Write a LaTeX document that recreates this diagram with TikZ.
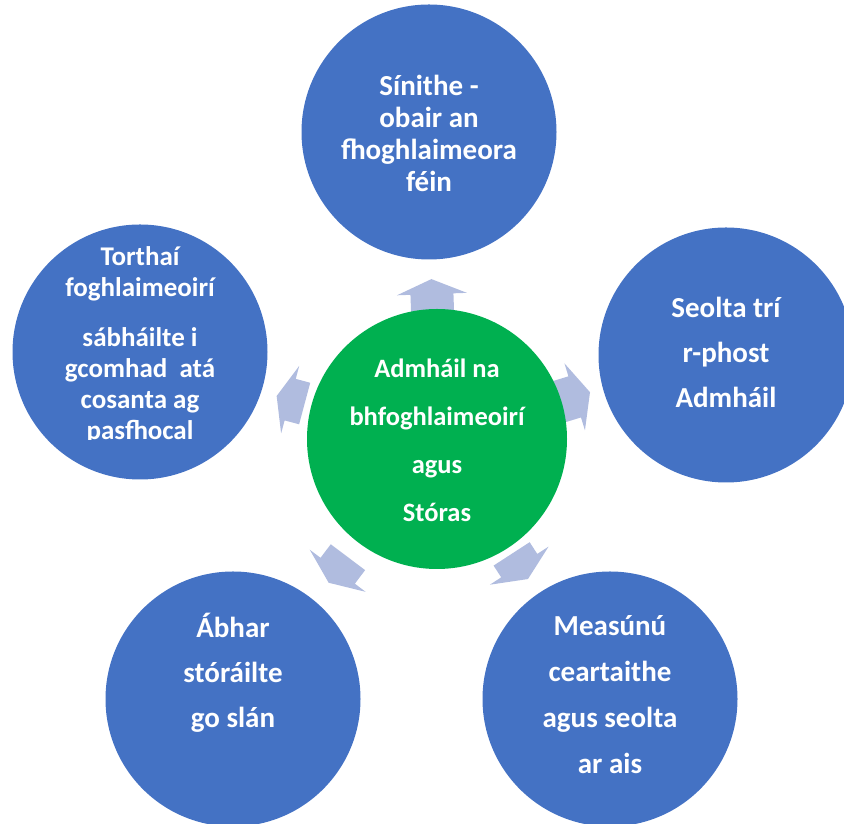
\documentclass[tikz,border=0pt]{standalone}
\usepackage{fontspec}
\setmainfont{Carlito}
\definecolor{spokeblue}{HTML}{4472C4}
\definecolor{hubgreen}{HTML}{00B050}
\definecolor{arrowblue}{HTML}{B0BCDF}
\begin{document}
\begin{tikzpicture}
		[x=1pt,y=1pt,
		spoke/.style={circle, fill=spokeblue, minimum size=255pt, inner sep=0pt},
		hub/.style={circle, fill=hubgreen, minimum size=260pt, inner sep=0pt},
		circletext/.style={text=white, align=center, inner sep=0pt},
		blockarrow/.style={fill=arrowblue},
		]
		\useasboundingbox (0,0) rectangle (844,824);
		\coordinate (mid) at (437,385);
		\foreach \ang/\rb/\rh/\rt in {92/120/145/160, 17/124/144/160, 165/137/152/166, -57/137/151/167, -127/148/165/180}
		\fill[blockarrow, shift={(mid)}, rotate=\ang]
			(\rb,-21.5) -- (\rh,-21.5) -- (\rh,-35) -- (\rt,0) -- (\rh,35) -- (\rh,21.5) -- (\rb,21.5) -- cycle;
		\node[hub] (hub) at (mid) {};
		\node[spoke] (signed) at (429,692) {};
		\node[spoke] (emailed) at (726,469) {};
		\node[spoke] (marked) at (610,125) {};
		\node[spoke] (stored) at (233,125) {};
		\node[spoke] (saved) at (140,472) {};
		
		\node[circletext, font=\bfseries\fontsize{26.5}{48}\selectfont] (hubtext) at (437,384)
			{Admháil na\\bhfoghlaimeoirí\\agus\\Stóras};
		\node[circletext, font=\bfseries\fontsize{29}{32}\selectfont] (signedtext) at (429,691)
			{Sínithe -\\obair an\\fhoghlaimeora\\féin};
		\node[circletext, font=\bfseries\fontsize{29}{45}\selectfont] (emailedtext) at (726,472)
			{Seolta trí\\r-phost\\Admháil};
		\node[circletext, font=\bfseries\fontsize{29}{46}\selectfont] (markedtext) at (610,129)
			{Measúnú\\ceartaithe\\agus seolta\\ar ais};
		\node[circletext, font=\bfseries\fontsize{29}{45}\selectfont] (storedtext) at (233,151)
			{Ábhar\\stóráilte\\go slán};
		\begin{scope}
			\clip (0,384) rectangle (300,824);
			\node[circletext, font=\bfseries\fontsize{27}{31}\selectfont] (savedtext) at (140,479)
				{Torthaí\\foghlaimeoirí\\[19pt]sábháilte i\\gcomhad\ \ atá\\cosanta ag\\pasfhocal};
		\end{scope}
	\end{tikzpicture}
\end{document}
